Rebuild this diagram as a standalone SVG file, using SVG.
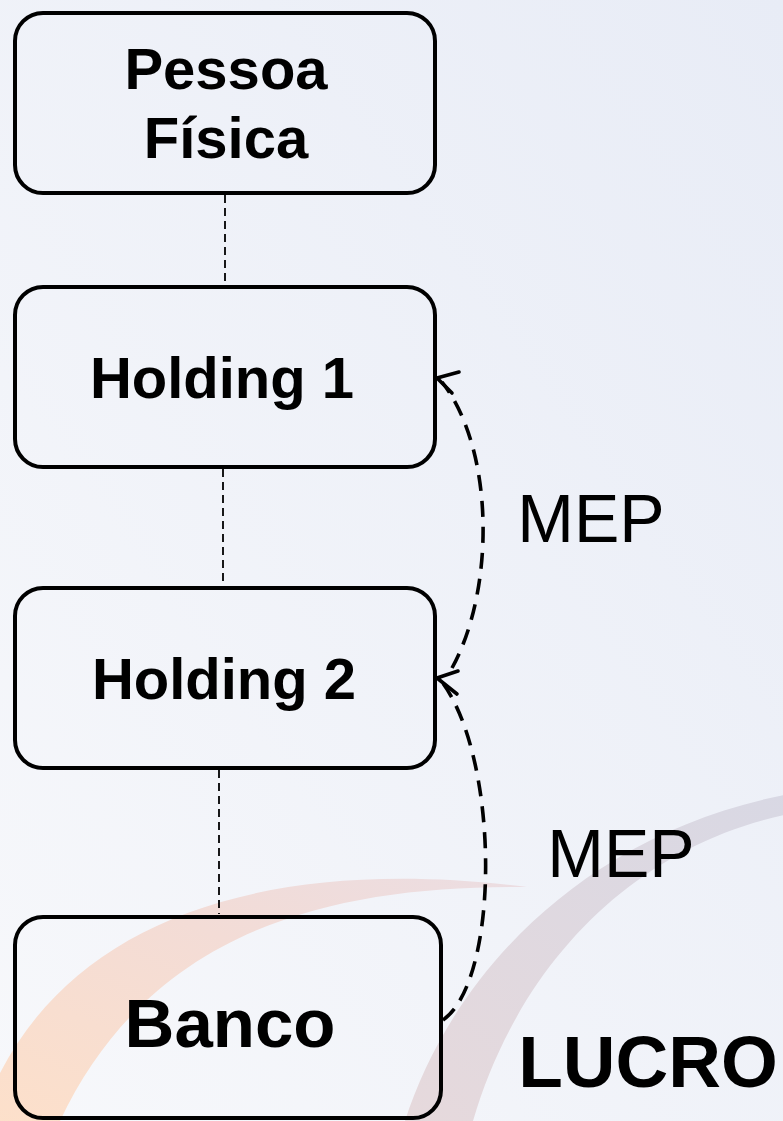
<svg xmlns="http://www.w3.org/2000/svg" width="783" height="1121" viewBox="0 0 783 1121">
  <defs>
    <linearGradient id="bg" x1="0" y1="1" x2="1" y2="0">
      <stop offset="0" stop-color="#f7f8fb"/>
      <stop offset="1" stop-color="#e8ecf6"/>
    </linearGradient>
    <linearGradient id="swooshWarm" x1="0" y1="1" x2="1" y2="0">
      <stop offset="0" stop-color="#fde0ca"/>
      <stop offset="0.6" stop-color="#f3dcd6"/>
      <stop offset="1" stop-color="#ebdde2"/>
    </linearGradient>
    <linearGradient id="swooshCool" x1="0" y1="1" x2="1" y2="0">
      <stop offset="0" stop-color="#e6d9dc"/>
      <stop offset="1" stop-color="#d8d8e4"/>
    </linearGradient>
    <style>
      .box { fill: none; stroke: #000; stroke-width: 4; }
      .label { font-family: "Liberation Sans", Arial, sans-serif; font-weight: bold; fill: #000; text-anchor: middle; }
      .mep { font-family: "Liberation Sans", Arial, sans-serif; font-size: 68px; fill: #000; text-anchor: middle; }
      .link { fill: none; stroke: #000; stroke-width: 1.8; stroke-dasharray: 8 5; }
      .flow { fill: none; stroke: #000; stroke-width: 3.6; stroke-dasharray: 16 10; }
      .head { fill: none; stroke: #000; stroke-width: 3.6; stroke-linecap: round; stroke-linejoin: round; }
    </style>
  </defs>

  <!-- background and decorative swooshes -->
  <rect width="783" height="1121" fill="url(#bg)"/>
  <path d="M -20,1121 C 40,940 230,850 527,887 C 330,885 150,930 60,1121 Z" fill="url(#swooshWarm)"/>
  <path d="M 405,1121 C 450,980 580,830 800,792 L 800,812 C 640,840 520,960 473,1121 Z" fill="url(#swooshCool)"/>

  <!-- ownership links -->
  <g id="connectors">
    <line class="link" x1="225" y1="195" x2="225" y2="285"/>
    <line class="link" x1="223" y1="469" x2="223" y2="586"/>
    <line class="link" x1="219" y1="770" x2="219" y2="914"/>
    <path class="flow" d="M452,668 C 495,590 495,450 442,382"/>
    <polyline class="head" points="459,372 437,378 452,393"/>
    <path class="flow" d="M443,1020 C 500,980 500,760 442,682"/>
    <polyline class="head" points="458,671 437,678 457,694"/>
  </g>

  <g id="pessoa-fisica">
    <rect class="box" x="15" y="13" width="420" height="180" rx="28"/>
    <text class="label" x="226" y="89" font-size="58">Pessoa</text>
    <text class="label" x="226" y="158" font-size="58">Física</text>
  </g>

  <g id="holding-1">
    <rect class="box" x="15" y="287" width="420" height="180" rx="28"/>
    <text class="label" x="222" y="398" font-size="58">Holding 1</text>
  </g>

  <g id="holding-2">
    <rect class="box" x="15" y="588" width="420" height="180" rx="28"/>
    <text class="label" x="224" y="699" font-size="58">Holding 2</text>
  </g>

  <g id="banco">
    <rect class="box" x="15" y="917" width="426" height="201" rx="28"/>
    <text class="label" x="230" y="1047" font-size="69">Banco</text>
  </g>

  <text class="mep" x="591" y="542">MEP</text>
  <text class="mep" x="621" y="877">MEP</text>
  <text class="label" x="648" y="1087" font-size="73">LUCRO</text>
</svg>
